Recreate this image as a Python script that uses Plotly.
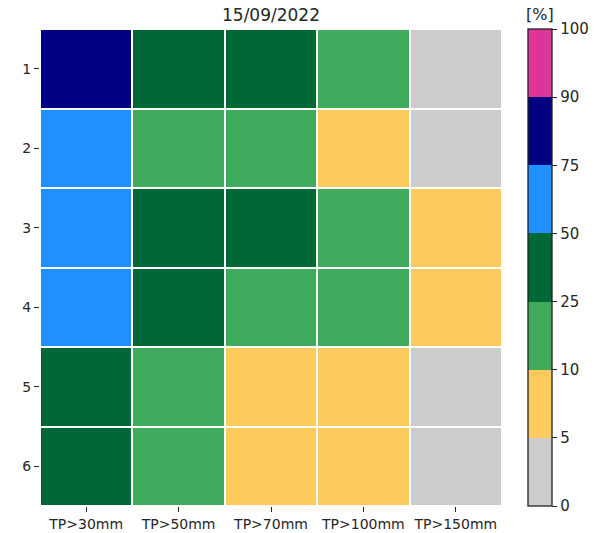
import numpy as np
import plotly.graph_objects as go

# Exceedance probabilities [%] per lead day (rows) and precipitation threshold (columns)
thresholds = ["TP>30mm", "TP>50mm", "TP>70mm", "TP>100mm", "TP>150mm"]
days = ["1", "2", "3", "4", "5", "6"]
prob_day1 = [82, 40, 35, 18, 3]
prob_day2 = [62, 20, 16, 8, 2]
prob_day3 = [60, 42, 30, 14, 7]
prob_day4 = [58, 30, 18, 12, 6]
prob_day5 = [38, 15, 8, 6, 4]
prob_day6 = [36, 14, 7, 6, 3]

# Colour classes of the probability scale
bounds = [0, 5, 10, 25, 50, 75, 90, 100]
class_colors = ["#cccccc", "#fdca5d", "#41ab5d", "#006837",
                "#1e90ff", "#000080", "#dd3497"]

probs = np.array([prob_day1, prob_day2, prob_day3, prob_day4, prob_day5, prob_day6], float)
# Map values onto equally spaced class positions so every class gets equal colorbar height
z_pos = np.interp(probs, bounds, np.arange(len(bounds)))

n = len(class_colors)
colorscale = []
for i, c in enumerate(class_colors):
    colorscale.append([i / n, c])
    colorscale.append([(i + 1) / n, c])

font = "DejaVu Sans"
txt = "#262626"
W, H = 610, 533
ML, MR, MT, MB = 40, 108, 29, 27
PW, PH = W - ML - MR, H - MT - MB

fig = go.Figure(go.Heatmap(
    z=z_pos,
    x=thresholds,
    y=days,
    customdata=probs,
    hovertemplate="%{y} / %{x}: %{customdata}%<extra></extra>",
    colorscale=colorscale,
    zmin=0, zmax=n,
    xgap=2, ygap=2,
    colorbar=dict(
        tickvals=list(range(len(bounds))),
        ticktext=[str(b) for b in bounds],
        ticks="outside", ticklen=5, tickcolor=txt, tickwidth=1,
        tickfont=dict(family=font, size=15, color=txt),
        thickness=24, len=1, lenmode="fraction",
        x=528 / W, xref="container", xanchor="left", xpad=0,
        y=0.5, yanchor="middle", ypad=0,
        outlinewidth=1.3, outlinecolor="#222222",
    ),
))

fig.update_layout(
    width=W, height=H,
    margin=dict(l=ML, r=MR, t=MT, b=MB, autoexpand=False),
    plot_bgcolor="white", paper_bgcolor="white",
    title=dict(text="15/09/2022", xref="container", yref="container",
               x=271 / W, xanchor="center", y=1 - 15 / H, yanchor="middle",
               font=dict(family=font, size=17, color=txt)),
    font=dict(family=font, color=txt),
    annotations=[dict(text="[%]", xref="paper", yref="paper",
                      x=(540 - ML) / PW, y=(H - MB - 15) / PH,
                      xanchor="center", yanchor="middle", showarrow=False,
                      font=dict(family=font, size=16, color=txt))],
)

fig.update_xaxes(ticks="outside", ticklen=5, tickcolor=txt, showgrid=False, automargin=False,
                 tickfont=dict(family=font, size=14, color=txt), zeroline=False)
fig.update_yaxes(autorange="reversed", ticks="outside", ticklen=5, tickcolor=txt,
                 showgrid=False, automargin=False,
                 tickfont=dict(family=font, size=14, color=txt), zeroline=False)

fig.write_html("out.html")
